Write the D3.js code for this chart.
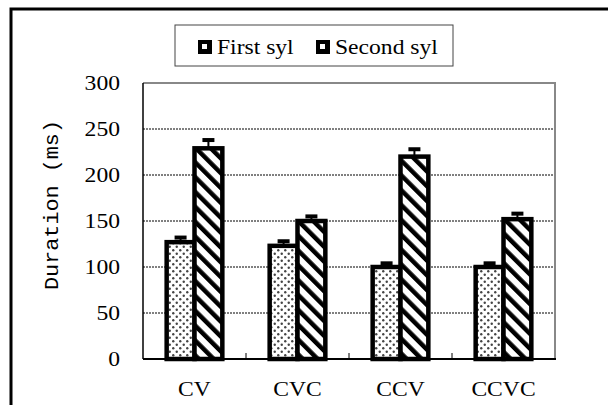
<!DOCTYPE html>
<html><head><meta charset="utf-8">
<script src="https://cdn.jsdelivr.net/npm/d3@7/dist/d3.min.js"></script>
<style>body{margin:0;background:#fff}svg{display:block}
.serif{font-family:'Liberation Serif','Times New Roman',serif}
.mono{font-family:'Liberation Mono','Courier New',monospace}</style>
</head><body>
<script>
const categories = ["CV", "CVC", "CCV", "CCVC"];
const seriesNames = ["First syl", "Second syl"];
const firstSyl = [127, 123, 100, 100];
const secondSyl = [229, 150, 220, 152];
const firstErr = [5, 5, 4, 4];
const secondErr = [9, 5, 8, 6];
const yTicks = [0, 50, 100, 150, 200, 250, 300];

const W = 608, H = 405;
const FS = 20, SX = 1.18;
const svg = d3.select("body").append("svg").attr("width", W).attr("height", H);
const defs = svg.append("defs");
const dots = defs.append("pattern").attr("id", "dots").attr("patternUnits", "userSpaceOnUse")
  .attr("width", 7).attr("height", 7);
dots.append("rect").attr("width", 7).attr("height", 7).attr("fill", "#fff");
dots.append("circle").attr("cx", 1.75).attr("cy", 1.75).attr("r", 1.2).attr("fill", "#444");
dots.append("circle").attr("cx", 5.25).attr("cy", 5.25).attr("r", 1.2).attr("fill", "#444");
const stripes = defs.append("pattern").attr("id", "stripes").attr("patternUnits", "userSpaceOnUse")
  .attr("width", 10.5).attr("height", 10.5).attr("patternTransform", "rotate(-45)");
stripes.append("rect").attr("width", 10.5).attr("height", 10.5).attr("fill", "#fff");
stripes.append("rect").attr("x", 0).attr("width", 4.5).attr("height", 10.5).attr("fill", "#000");

// outer frame
svg.append("rect").attr("x", 11).attr("y", 9).attr("width", 640).attr("height", 440)
  .attr("fill", "none").attr("stroke", "#000").attr("stroke-width", 3);

const m = {l: 143, t: 83, r: 555, b: 359};
const x = d3.scaleBand().domain(categories).range([m.l, m.r]);
const y = d3.scaleLinear().domain([0, 300]).range([m.b, m.t]);

function stext(sel, px, py, anchor) {
  return sel.attr("transform", d => `translate(${px(d)},${py(d)}) scale(${SX},1)`)
    .attr("text-anchor", anchor).attr("class", "serif").attr("font-size", FS);
}

// gridlines
svg.append("g").selectAll("line").data(yTicks.filter(d => d > 0 && d < 300)).join("line")
  .attr("x1", m.l).attr("x2", m.r).attr("y1", d => y(d)).attr("y2", d => y(d))
  .attr("stroke", "#000").attr("stroke-width", 1).attr("stroke-dasharray", "2,1");
// top/right plot border (gray)
svg.append("path").attr("d", `M${m.l},${m.t}H${m.r}V${m.b}`).attr("fill", "none")
  .attr("stroke", "#888").attr("stroke-width", 2);

// y tick labels
stext(svg.append("g").selectAll("text").data(yTicks).join("text"), () => 120, d => y(d) + 7, "end")
  .text(d => d);

// y title
svg.append("text").attr("transform", `translate(58,205) rotate(-90)`)
  .attr("text-anchor", "middle").attr("class", "mono")
  .attr("font-size", 20).attr("textLength", 170).attr("lengthAdjust", "spacingAndGlyphs")
  .text("Duration (ms)");

// bars
const inner = d3.scaleBand().domain(seriesNames).range([0, x.bandwidth()]).paddingOuter(0.85).paddingInner(0);
const rows = [];
categories.forEach((c, i) => {
  rows.push({c, s: seriesNames[0], v: firstSyl[i], e: firstErr[i], fill: "url(#dots)"});
  rows.push({c, s: seriesNames[1], v: secondSyl[i], e: secondErr[i], fill: "url(#stripes)"});
});
const bw = inner.bandwidth();
const g = svg.append("g");
g.selectAll("line.err").data(rows).join("line").attr("class", "err")
  .attr("x1", d => x(d.c) + inner(d.s) + bw / 2).attr("x2", d => x(d.c) + inner(d.s) + bw / 2)
  .attr("y1", d => y(d.v)).attr("y2", d => y(d.v + d.e)).attr("stroke", "#000").attr("stroke-width", 2);
g.selectAll("line.cap").data(rows).join("line").attr("class", "cap")
  .attr("x1", d => x(d.c) + inner(d.s) + bw / 2 - 6).attr("x2", d => x(d.c) + inner(d.s) + bw / 2 + 6)
  .attr("y1", d => y(d.v + d.e)).attr("y2", d => y(d.v + d.e)).attr("stroke", "#000").attr("stroke-width", 4);
g.selectAll("rect.bar").data(rows).join("rect").attr("class", "bar")
  .attr("x", d => x(d.c) + inner(d.s)).attr("width", bw)
  .attr("y", d => y(d.v)).attr("height", d => y(0) - y(d.v))
  .attr("fill", d => d.fill).attr("stroke", "#000").attr("stroke-width", 4.5);

// axes lines
svg.append("line").attr("x1", m.l).attr("x2", m.l).attr("y1", m.t).attr("y2", m.b)
  .attr("stroke", "#000").attr("stroke-width", 1.5);
svg.append("line").attr("x1", m.l).attr("x2", m.r + 1).attr("y1", m.b).attr("y2", m.b)
  .attr("stroke", "#000").attr("stroke-width", 2);
svg.append("g").selectAll("line").data(categories.slice(1)).join("line")
  .attr("x1", d => x(d)).attr("x2", d => x(d)).attr("y1", m.b).attr("y2", m.b - 6)
  .attr("stroke", "#000").attr("stroke-width", 1);

// x labels
stext(svg.append("g").selectAll("text").data(categories).join("text"),
  d => x(d) + x.bandwidth() / 2, () => 396, "middle").text(d => d);

// legend
const lg = svg.append("g");
lg.append("rect").attr("x", 175).attr("y", 25).attr("width", 278).attr("height", 41)
  .attr("fill", "#fff").attr("stroke", "#444").attr("stroke-width", 1);
const legendItems = [{name: seriesNames[0], x: 198}, {name: seriesNames[1], x: 316}];
legendItems.forEach(it => {
  lg.append("rect").attr("x", it.x + 1.5).attr("y", 41.5).attr("width", 11).attr("height", 11)
    .attr("fill", "#000").attr("stroke", "#000").attr("stroke-width", 3);
  lg.append("rect").attr("x", it.x + 4).attr("y", 44).attr("width", 5).attr("height", 5).attr("fill", "#fff");
  stext(lg.append("text").datum(it), d => d.x + 19, () => 54, "start").text(it.name);
});
</script>
</body></html>
